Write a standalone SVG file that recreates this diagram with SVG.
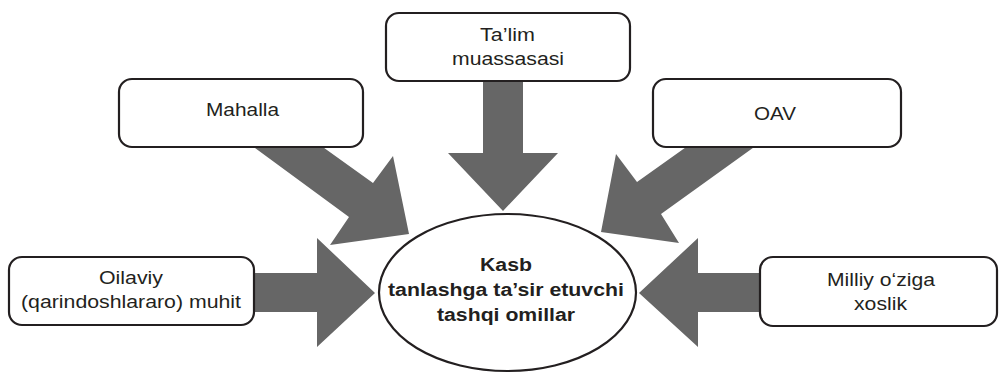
<svg xmlns="http://www.w3.org/2000/svg" width="999" height="373" viewBox="0 0 999 373">
<style>
.box{fill:#fff;stroke:#231f20;stroke-width:2.2}
.arr{fill:#666666;stroke:none}
.t{font-family:"Liberation Sans",Arial,sans-serif;font-size:18.7px;fill:#231f20;text-anchor:middle}
.b{font-weight:bold}
</style>
<rect width="999" height="373" fill="#fff"/>
<g id="connectors">
<polygon class="arr" points="251,145 320,145 373,183 393,156 409,234 330,245 349,217"/>
<polygon class="arr" points="483,80 523,80 523,153 558,153 503,211 448,153 483,153"/>
<polygon class="arr" points="689,145 757,145 661,214 679,243 601,232 616,154 637,182"/>
<polygon class="arr" points="253,273 317,273 317,238 375,293 317,347 317,312 253,312"/>
<polygon class="arr" points="761,273 698,273 698,238 639,293 698,347 698,312 761,312"/>
</g>
<g id="mahalla">
<rect class="box" x="119" y="79" width="244" height="68" rx="13"/>
<text class="t" x="242.5" y="116" textLength="73" lengthAdjust="spacingAndGlyphs">Mahalla</text>
</g>
<g id="talim">
<rect class="box" x="386" y="13" width="244" height="68" rx="13"/>
<text class="t" x="507.5" y="40.5" textLength="55" lengthAdjust="spacingAndGlyphs">Ta’lim</text>
<text class="t" x="508" y="64.5" textLength="112" lengthAdjust="spacingAndGlyphs">muassasasi</text>
</g>
<g id="oav">
<rect class="box" x="653" y="79" width="248" height="68" rx="13"/>
<text class="t" x="775" y="120" textLength="42" lengthAdjust="spacingAndGlyphs">OAV</text>
</g>
<g id="oilaviy">
<rect class="box" x="9" y="257" width="245" height="68" rx="13"/>
<text class="t" x="131" y="283.5" textLength="64" lengthAdjust="spacingAndGlyphs">Oilaviy</text>
<text class="t" x="131" y="307.5" textLength="220" lengthAdjust="spacingAndGlyphs">(qarindoshlararo) muhit</text>
</g>
<g id="milliy">
<rect class="box" x="760" y="257" width="237" height="69" rx="13"/>
<text class="t" x="881" y="286" textLength="108" lengthAdjust="spacingAndGlyphs">Milliy o‘ziga</text>
<text class="t" x="880.5" y="310" textLength="53" lengthAdjust="spacingAndGlyphs">xoslik</text>
</g>
<g id="center">
<ellipse class="box" cx="507.5" cy="292.5" rx="128.5" ry="78.5"/>
<text class="t b" x="506" y="271" textLength="52" lengthAdjust="spacingAndGlyphs">Kasb</text>
<text class="t b" x="506" y="296" textLength="236" lengthAdjust="spacingAndGlyphs">tanlashga ta’sir etuvchi</text>
<text class="t b" x="506" y="321" textLength="138" lengthAdjust="spacingAndGlyphs">tashqi omillar</text>
</g>
</svg>
